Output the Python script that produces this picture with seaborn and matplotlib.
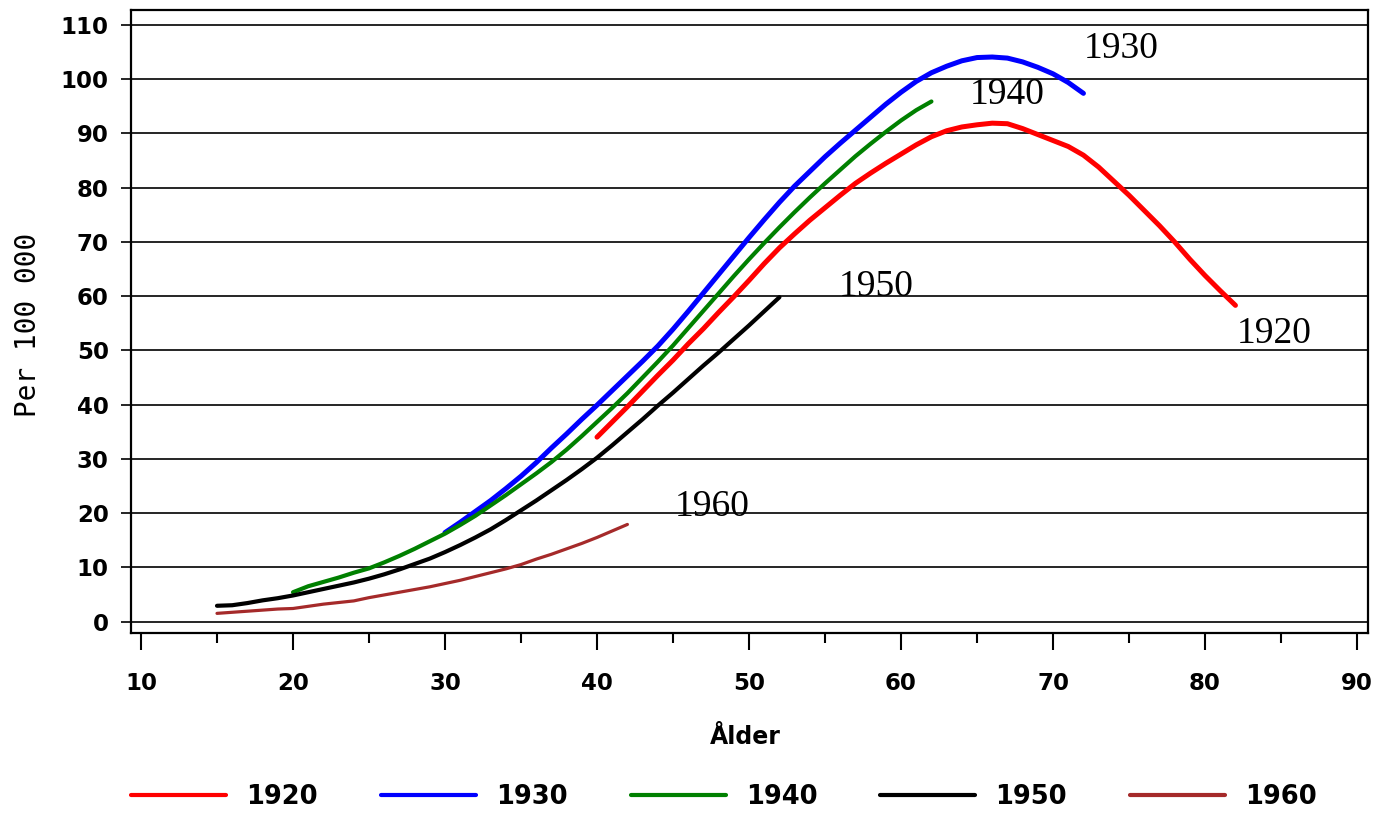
import matplotlib
matplotlib.use("Agg")
import matplotlib.pyplot as plt
import seaborn as sns
import pandas as pd
from matplotlib.ticker import MultipleLocator

# Per 100 000, efter ålder, för födelsekohorter
alder_1920 = list(range(40, 83))
varde_1920 = [34.0, 36.8, 39.6, 42.5, 45.4, 48.2, 51.2, 54.0, 57.0, 59.9,
              62.9, 66.0, 68.9, 71.5, 74.0, 76.3, 78.6, 80.8, 82.7, 84.5,
              86.2, 87.9, 89.4, 90.5, 91.2, 91.6, 91.9, 91.8, 90.9, 89.8,
              88.7, 87.6, 86.0, 83.8, 81.2, 78.6, 75.8, 73.0, 70.0, 66.8,
              63.8, 61.0, 58.3]

alder_1930 = list(range(30, 73))
varde_1930 = [16.4, 18.3, 20.3, 22.3, 24.5, 26.8, 29.3, 32.0, 34.6, 37.3,
              39.9, 42.6, 45.3, 48.0, 50.8, 53.9, 57.2, 60.6, 64.0, 67.4,
              70.8, 74.1, 77.3, 80.3, 83.0, 85.7, 88.2, 90.6, 93.0, 95.4,
              97.6, 99.6, 101.2, 102.4, 103.4, 104.0, 104.1, 103.9, 103.2, 102.2,
              101.0, 99.4, 97.4]

alder_1940 = list(range(20, 63))
varde_1940 = [5.4, 6.5, 7.3, 8.1, 9.0, 9.8, 10.9, 12.1, 13.4, 14.8,
              16.2, 17.8, 19.5, 21.4, 23.3, 25.3, 27.3, 29.4, 31.7, 34.2,
              36.8, 39.4, 42.1, 45.0, 47.9, 50.9, 54.1, 57.3, 60.5, 63.7,
              66.8, 69.8, 72.7, 75.5, 78.2, 80.8, 83.3, 85.8, 88.1, 90.3,
              92.4, 94.3, 95.9]

alder_1950 = list(range(15, 53))
varde_1950 = [2.9, 3.0, 3.4, 3.9, 4.3, 4.8, 5.4, 6.0, 6.6, 7.2,
              7.9, 8.7, 9.6, 10.6, 11.6, 12.8, 14.1, 15.5, 17.0, 18.7,
              20.5, 22.3, 24.2, 26.1, 28.1, 30.2, 32.5, 34.9, 37.3, 39.8,
              42.2, 44.7, 47.2, 49.6, 52.1, 54.6, 57.2, 59.8]

alder_1960 = list(range(15, 43))
varde_1960 = [1.5, 1.7, 1.9, 2.1, 2.3, 2.4, 2.8, 3.2, 3.5, 3.8,
              4.4, 4.9, 5.4, 5.9, 6.4, 7.0, 7.6, 8.3, 9.0, 9.7,
              10.5, 11.5, 12.4, 13.4, 14.4, 15.5, 16.7, 17.9]

kohorter = ["1920", "1930", "1940", "1950", "1960"]
farger = ["#ff0000", "#0000ff", "#008000", "#000000", "#a52a2a"]
bredd = [3.6, 3.6, 3.0, 3.0, 2.3]

# etikettplacering (ålder, värde) för texterna i diagrammet
etikett_x = [82.1, 72.0, 64.5, 55.9, 45.1]
etikett_y = [53.0, 105.6, 97.1, 61.7, 21.1]

serier = [(alder_1920, varde_1920), (alder_1930, varde_1930), (alder_1940, varde_1940),
          (alder_1950, varde_1950), (alder_1960, varde_1960)]
df = pd.concat([pd.DataFrame({"alder": a, "varde": v, "kohort": k})
                for (a, v), k in zip(serier, kohorter)])

sns.set_style("white")
plt.rcParams["font.family"] = ["DejaVu Sans"]
plt.rcParams.update({"text.color": "black", "axes.labelcolor": "black",
                     "xtick.color": "black", "ytick.color": "black"})

fig = plt.figure(figsize=(13.8, 8.13), dpi=100)
ax = fig.add_axes([0.0949, 0.2214, 0.8964, 0.7663])

for k, c, lw in zip(kohorter, farger, bredd):
    sns.lineplot(data=df[df["kohort"] == k], x="alder", y="varde", color=c,
                 linewidth=lw, ax=ax, label=k, legend=False)

ax.set_xlim(9.34, 90.72)
ax.set_ylim(-2.12, 112.77)
ax.xaxis.set_major_locator(MultipleLocator(10))
ax.xaxis.set_minor_locator(MultipleLocator(5))
ax.yaxis.set_major_locator(MultipleLocator(10))
ax.grid(axis="y", color="black", linewidth=1.2)
ax.set_axisbelow(True)
for s in ax.spines.values():
    s.set_color("black")
    s.set_linewidth(1.6)

ax.tick_params(axis="x", which="major", direction="out", length=12, width=1.5,
               pad=16, labelsize=16.5, bottom=True)
ax.tick_params(axis="x", which="minor", direction="out", length=7, width=1.5, bottom=True)
ax.tick_params(axis="y", direction="out", length=7, width=1.2, pad=9, labelsize=16.5, left=True)
for lab in ax.get_xticklabels() + ax.get_yticklabels():
    lab.set_fontweight("bold")

ax.set_xlabel("Ålder", fontsize=17, fontweight="bold")
ax.xaxis.set_label_coords(0.497, -0.147)
ax.set_ylabel("Per 100 000", fontsize=20, family="DejaVu Sans Mono")
ax.yaxis.set_label_coords(-0.072, 0.494)

for k, x, y in zip(kohorter, etikett_x, etikett_y):
    ax.text(x, y, k, fontsize=27, family="Liberation Serif", ha="left", va="center")

handles, labels = ax.get_legend_handles_labels()
leg = fig.legend(handles, labels, loc="center", bbox_to_anchor=(724 / 1380, 1 - 797 / 813),
                 ncol=5, frameon=False, fontsize=18.5, handlelength=3.7,
                 handletextpad=0.78, columnspacing=2.45, borderpad=0)
for t in leg.get_texts():
    t.set_fontweight("bold")
for h in leg.get_lines():
    h.set_linewidth(3.0)

fig.savefig("out.png", dpi=100)
